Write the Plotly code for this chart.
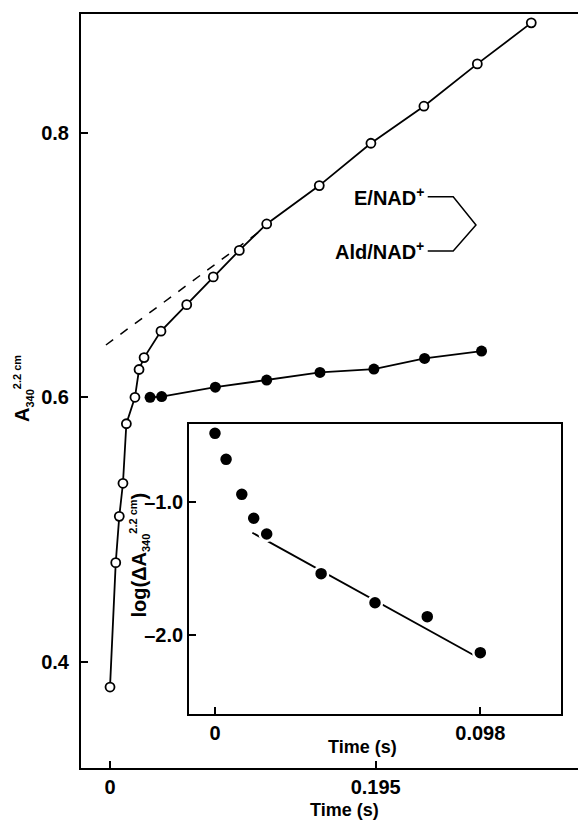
import plotly.graph_objects as go

# Main panel: E/NAD+ (open circles)
t_e = [0.0, 0.0042, 0.0068, 0.0095, 0.0120, 0.0183, 0.0213, 0.0250, 0.0374,
       0.0563, 0.0758, 0.0949, 0.1150, 0.1536, 0.1915, 0.2304, 0.2696, 0.3092]
a_e = [0.381, 0.475, 0.510, 0.535, 0.580, 0.600, 0.621, 0.630, 0.650,
       0.670, 0.691, 0.711, 0.731, 0.760, 0.792, 0.820, 0.852, 0.883]

# Main panel: Ald/NAD+ (filled circles)
t_ald = [0.0294, 0.0379, 0.0773, 0.1150, 0.1541, 0.1937, 0.2309, 0.2727]
a_ald = [0.600, 0.6005, 0.6076, 0.613, 0.6188, 0.6213, 0.6294, 0.6349]

# Dashed extrapolation of the linear phase
t_dash = [-0.003, 0.115]
a_dash = [0.6395, 0.7293]

# Inset: log(dA) vs time
t_in = [0.0, 0.0041, 0.0099, 0.0143, 0.0191, 0.0392, 0.0591, 0.0784, 0.0980]
log_in = [-0.48, -0.676, -0.94, -1.12, -1.239, -1.538, -1.757, -1.862, -2.133]
t_fit = [0.0138, 0.0955]
log_fit = [-1.229, -2.151]

main_xticks = [0, 0.195]
main_xlabels = ["0", "0.195"]
main_yticks = [0.4, 0.6, 0.8]
main_ylabels = ["0.4", "0.6", "0.8"]
in_xticks = [0, 0.098]
in_xlabels = ["0", "0.098"]
in_yticks = [-1.0, -2.0]
in_ylabels = ["\u20131.0", "\u20132.0"]

FAM = "Liberation Sans, Arial, sans-serif"
TICKFONT = dict(family=FAM, size=20, color="black", weight="bold")
LABFONT = dict(family=FAM, size=20, color="black", weight="bold")
TITLEFONT = dict(family=FAM, size=18, color="black", weight="bold")
YTFONT = dict(family=FAM, size=20, color="black", weight="bold")

fig = go.Figure()

fig.add_trace(go.Scatter(x=t_dash, y=a_dash, mode="lines",
                         line=dict(color="black", width=1.5, dash="dash"),
                         xaxis="x", yaxis="y", showlegend=False))
fig.add_trace(go.Scatter(x=t_e, y=a_e, mode="lines+markers",
                         line=dict(color="black", width=1.8),
                         marker=dict(symbol="circle", size=9, color="white",
                                     line=dict(color="black", width=1.8)),
                         xaxis="x", yaxis="y", showlegend=False))
fig.add_trace(go.Scatter(x=t_ald, y=a_ald, mode="lines+markers",
                         line=dict(color="black", width=1.8),
                         marker=dict(symbol="circle", size=11, color="black"),
                         xaxis="x", yaxis="y", showlegend=False))

fig.add_trace(go.Scatter(x=t_fit, y=log_fit, mode="lines",
                         line=dict(color="black", width=1.8),
                         xaxis="x2", yaxis="y2", showlegend=False))
fig.add_trace(go.Scatter(x=t_in, y=log_in, mode="markers",
                         marker=dict(symbol="circle", size=14, color="black",
                                     line=dict(color="white", width=2.5)),
                         xaxis="x2", yaxis="y2", showlegend=False))

axis_common = dict(showgrid=False, zeroline=False, showline=True, linecolor="black",
                   ticks="inside", ticklen=7, tickwidth=1.5, tickcolor="black",
                   tickfont=TICKFONT)

fig.update_layout(
    width=578, height=820,
    margin=dict(l=81, r=0, t=14, b=52),
    paper_bgcolor="white", plot_bgcolor="white",
    xaxis=dict(domain=[0, 1], range=[-0.0213, 0.3435], tickvals=main_xticks,
               ticktext=main_xlabels, linewidth=2, mirror=True, **axis_common),
    yaxis=dict(domain=[0, 1], range=[0.3198, 0.8897], tickvals=main_yticks,
               ticktext=main_ylabels, linewidth=2, mirror=False,
               ticklabelstandoff=6, **axis_common),
    xaxis2=dict(domain=[0.2173, 0.9658], range=[-0.0096, 0.1278], anchor="y2",
                tickvals=in_xticks, ticktext=in_xlabels, linewidth=1.8, mirror=True,
                **axis_common),
    yaxis2=dict(domain=[0.0712, 0.4562], range=[-2.598, -0.41], anchor="x2",
                tickvals=in_yticks, ticktext=in_ylabels, linewidth=1.8, mirror=True,
                **axis_common),
)

# Bracket joining the two labels
fig.add_shape(type="path", xref="x", yref="y",
              path="M 0.2332,0.7516 L 0.2519,0.7516 L 0.2686,0.7302 L 0.2519,0.7106 L 0.2332,0.7106",
              line=dict(color="black", width=1.5))

SMALL = "<span style='font-size:11px'>{}</span>"
ann = [
    dict(text="E/NAD<sup>+</sup>", x=0.2318, y=0.7516, xref="x", yref="y",
         xanchor="right", yanchor="middle", font=LABFONT),
    dict(text="Ald/NAD<sup>+</sup>", x=0.2318, y=0.7106, xref="x", yref="y",
         xanchor="right", yanchor="middle", font=LABFONT),
    dict(text="Time (s)", x=0.531, y=-0.0557, xref="paper", yref="paper",
         xanchor="center", yanchor="middle", font=TITLEFONT),
    dict(text="Time (s)", x=0.567, y=0.0279, xref="paper", yref="paper",
         xanchor="center", yanchor="middle", font=TITLEFONT),
    dict(text="A<sub>" + SMALL.format("340") + "</sub><sup>" + SMALL.format("2.2 cm") + "</sup>",
         x=-0.1147, y=0.5040,
         xref="paper", yref="paper", textangle=-90, xanchor="center", yanchor="middle",
         font=YTFONT),
    dict(text="log(\u0394A<sub>" + SMALL.format("340") + "</sub><sup>" + SMALL.format("2.2 cm")
         + "</sup>)", x=0.1185, y=0.2830,
         xref="paper", yref="paper", textangle=-90, xanchor="center", yanchor="middle",
         font=YTFONT),
]
for a in ann:
    fig.add_annotation(showarrow=False, **a)

fig.write_html("out.html", config={"displayModeBar": False},
               post_script="document.body.style.margin='0px';")
